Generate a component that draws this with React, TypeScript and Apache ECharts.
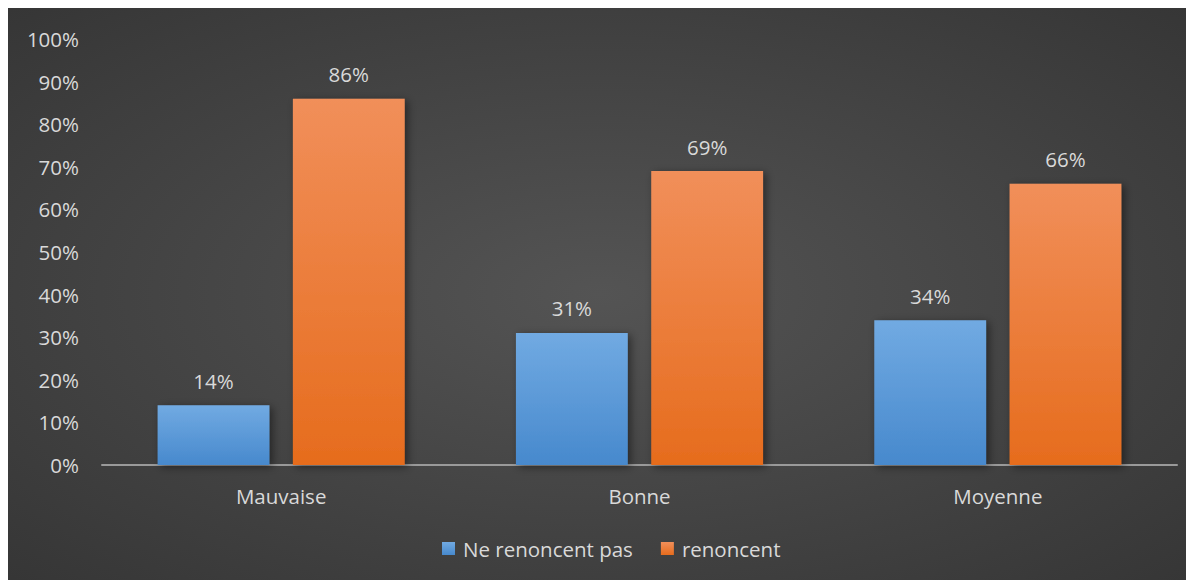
import React, { useEffect, useRef } from "react";
import * as echarts from "echarts";

const categories = ["Mauvaise", "Bonne", "Moyenne"];
const seriesNames = ["Ne renoncent pas", "renoncent"];
const neRenoncentPas = [14, 31, 34];
const renoncent = [86, 69, 66];

const FONT = "'Open Sans', 'Noto Sans', sans-serif";
const TXT = "#d9d9d9";
const FS = 20.5;

export default function App() {
  const ref = useRef<HTMLDivElement>(null);
  useEffect(() => {
    if (!ref.current) return;
    const chart = echarts.init(ref.current, null, { renderer: "svg" });
    const barShadow = {
      shadowColor: "rgba(0,0,0,0.45)",
      shadowBlur: 8,
      shadowOffsetX: 3,
      shadowOffsetY: 2,
    };
    const label = {
      show: true,
      position: "top",
      distance: 14,
      color: TXT,
      fontSize: FS,
      fontFamily: FONT,
      formatter: (p: any) => p.value + "%",
    };
    chart.setOption({
      animation: false,
      backgroundColor: {
        type: "radial",
        x: 0.5,
        y: 0.5,
        r: 1.15,
        colorStops: [
          { offset: 0, color: "#545454" },
          { offset: 1, color: "#232323" },
        ],
      },
      textStyle: { fontFamily: FONT },
      grid: { left: 94, right: 17, top: 31, bottom: 115, containLabel: false },
      legend: {
        left: 434,
        top: 530,
        padding: 0,
        itemWidth: 13,
        itemHeight: 13,
        itemGap: 28,
        icon: "rect",
        textStyle: { color: TXT, fontSize: FS, fontFamily: FONT, padding: [0, 0, 0, 3] },
        data: seriesNames,
      },
      xAxis: {
        type: "category",
        data: categories,
        axisLine: { show: true, lineStyle: { color: "#9a9a9a", width: 2 } },
        axisTick: { show: false },
        axisLabel: { color: TXT, fontSize: FS, fontFamily: FONT, margin: 20 },
      },
      yAxis: {
        type: "value",
        min: 0,
        max: 100,
        interval: 10,
        axisLine: { show: false },
        axisTick: { show: false },
        splitLine: { show: false },
        axisLabel: {
          color: TXT,
          fontSize: FS,
          fontFamily: FONT,
          margin: 23,
          formatter: (v: number) => v + "%",
        },
      },
      series: [
        {
          name: seriesNames[0],
          type: "bar",
          data: neRenoncentPas,
          barWidth: "31.2%",
          barGap: "21%",
          itemStyle: {
            color: new echarts.graphic.LinearGradient(0, 0, 0, 1, [
              { offset: 0, color: "#71aae2" },
              { offset: 1, color: "#4789cd" },
            ]),
            ...barShadow,
          },
          label,
        },
        {
          name: seriesNames[1],
          type: "bar",
          data: renoncent,
          barWidth: "31.2%",
          barGap: "21%",
          itemStyle: {
            color: new echarts.graphic.LinearGradient(0, 0, 0, 1, [
              { offset: 0, color: "#f18f5a" },
              { offset: 1, color: "#e66c1d" },
            ]),
            ...barShadow,
          },
          label,
        },
      ],
    });
    return () => chart.dispose();
  }, []);
  return <div ref={ref} style={{ width: 1186, height: 572 }} />;
}
